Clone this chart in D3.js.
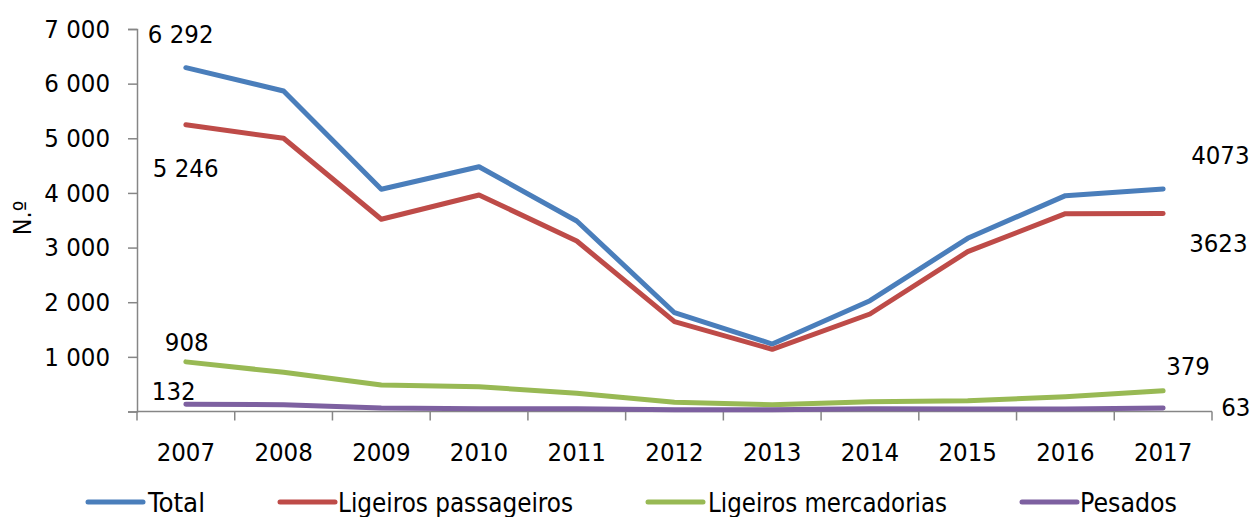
<!DOCTYPE html>
<html>
<head>
<meta charset="utf-8">
<script src="https://cdn.jsdelivr.net/npm/d3@7/dist/d3.min.js"></script>
<style>
  html, body { margin: 0; padding: 0; background: #fff; }
  svg { display: block; }
  text { font-family: "DejaVu Sans Condensed", "DejaVu Sans", "Liberation Sans", sans-serif; fill: #000; }
</style>
</head>
<body>
<svg id="chart" width="1251" height="517"></svg>
<script>
// Years on the category axis
const years = ["2007", "2008", "2009", "2010", "2011", "2012", "2013", "2014", "2015", "2016", "2017"];

// Series values (N.º)
const total = [6292, 5866, 4067, 4480, 3486, 1808, 1235, 2028, 3170, 3950, 4073];
const ligeirosPassageiros = [5246, 5000, 3518, 3962, 3120, 1644, 1138, 1784, 2925, 3620, 3623];
const ligeirosMercadorias = [908, 717, 485, 454, 333, 168, 125, 180, 198, 271, 379];
const pesados = [132, 125, 64, 52, 52, 32, 32, 50, 45, 45, 63];

// Series names and colours
const seriesNames = ["Total", "Ligeiros passageiros", "Ligeiros mercadorias", "Pesados"];
const seriesColors = ["#4A7EBB", "#BE4B48", "#98B954", "#7D60A0"];

// Value axis ticks
const yTicks = [0, 1000, 2000, 3000, 4000, 5000, 6000, 7000];
const yTitle = "N.º";

const seriesValues = [total, ligeirosPassageiros, ligeirosMercadorias, pesados];

const svg = d3.select("#chart");
const margin = { left: 137, right: 1212, top: 29, bottom: 411.5 };

const x = d3.scaleBand().domain(years).range([margin.left, margin.right]).paddingInner(0).paddingOuter(0);
const y = d3.scaleLinear().domain([0, 7000]).range([margin.bottom, margin.top]);

const fmt = v => v === 0 ? "" : d3.format(",")(v).replace(/,/g, " ");
const axisColor = "#868686";

// Y axis
const yAxis = svg.append("g")
  .attr("transform", `translate(${margin.left},0)`)
  .call(d3.axisLeft(y).tickValues(yTicks).tickFormat(fmt).tickSize(9).tickPadding(18));
yAxis.select(".domain").attr("stroke", axisColor).attr("stroke-width", 1.5);
yAxis.selectAll(".tick line").attr("stroke", axisColor).attr("stroke-width", 1.5);
yAxis.selectAll(".tick text")
  .attr("font-size", 25.5)
  .attr("font-family", "DejaVu Sans Condensed, DejaVu Sans, sans-serif")
  .attr("fill", "#000");

// X axis with ticks at category boundaries
const xAxisG = svg.append("g").attr("transform", `translate(0,${margin.bottom})`);
xAxisG.append("line")
  .attr("x1", margin.left).attr("x2", margin.right)
  .attr("y1", 0).attr("y2", 0)
  .attr("stroke", axisColor).attr("stroke-width", 1.5);
const boundaries = years.map(d => x(d)).concat([x(years[years.length - 1]) + x.bandwidth()]);
xAxisG.selectAll("line.tk").data(boundaries).join("line")
  .attr("class", "tk")
  .attr("x1", d => d).attr("x2", d => d)
  .attr("y1", 0).attr("y2", 9)
  .attr("stroke", axisColor).attr("stroke-width", 1.5);
xAxisG.selectAll("text").data(years).join("text")
  .attr("x", d => x(d) + x.bandwidth() / 2)
  .attr("y", 40)
  .attr("text-anchor", "middle")
  .attr("dominant-baseline", "central")
  .attr("font-size", 25.5)
  .text(d => d);

// Y axis title
svg.append("text")
  .attr("transform", "translate(22,218) rotate(-90)")
  .attr("text-anchor", "middle")
  .attr("dominant-baseline", "central")
  .attr("font-size", 25)
  .text(yTitle);

// Lines
const cx = d => x(d) + x.bandwidth() / 2;
const line = d3.line()
  .x((d, i) => cx(years[i]))
  .y(d => y(d));

svg.append("g").selectAll("path").data(seriesValues).join("path")
  .attr("d", d => line(d))
  .attr("fill", "none")
  .attr("stroke", (d, i) => seriesColors[i])
  .attr("stroke-width", 5)
  .attr("stroke-linejoin", "round")
  .attr("stroke-linecap", "round");

// Data labels for first and last years
const first = years[0], last = years[years.length - 1];
const labels = [
  { text: "6 292", x: cx(first) - 38, y: y(total[0]) - 34, anchor: "start" },
  { text: "5 246", x: cx(first) - 33, y: y(ligeirosPassageiros[0]) + 43, anchor: "start" },
  { text: "908", x: cx(first) - 21, y: y(ligeirosMercadorias[0]) - 20, anchor: "start" },
  { text: "132", x: cx(first) - 34, y: y(pesados[0]) - 13, anchor: "start" },
  { text: "4073", x: cx(last) + 28, y: y(total[10]) - 34, anchor: "start" },
  { text: "3623", x: cx(last) + 26, y: y(ligeirosPassageiros[10]) + 29, anchor: "start" },
  { text: "379", x: cx(last) + 3, y: y(ligeirosMercadorias[10]) - 25, anchor: "start" },
  { text: "63", x: cx(last) + 58, y: y(pesados[10]) - 1, anchor: "start" }
];
svg.append("g").selectAll("text").data(labels).join("text")
  .attr("x", d => d.x)
  .attr("y", d => d.y)
  .attr("text-anchor", d => d.anchor)
  .attr("dominant-baseline", "central")
  .attr("font-size", 25.5)
  .text(d => d.text);

// Legend
const legendItems = [
  { lx: 88, tx: 148, tw: 57 },
  { lx: 280, tx: 338, tw: 235 },
  { lx: 648, tx: 708, tw: 239 },
  { lx: 1022, tx: 1080, tw: 97 }
];
const legend = svg.append("g");
legendItems.forEach((it, i) => {
  legend.append("line")
    .attr("x1", it.lx).attr("x2", it.lx + 55)
    .attr("y1", 502).attr("y2", 502)
    .attr("stroke", seriesColors[i])
    .attr("stroke-width", 5)
    .attr("stroke-linecap", "round");
  legend.append("text")
    .attr("x", it.tx)
    .attr("y", 503)
    .attr("dominant-baseline", "central")
    .attr("font-size", 26)
    .attr("textLength", it.tw)
    .attr("lengthAdjust", "spacingAndGlyphs")
    .text(seriesNames[i]);
});
</script>
</body>
</html>
